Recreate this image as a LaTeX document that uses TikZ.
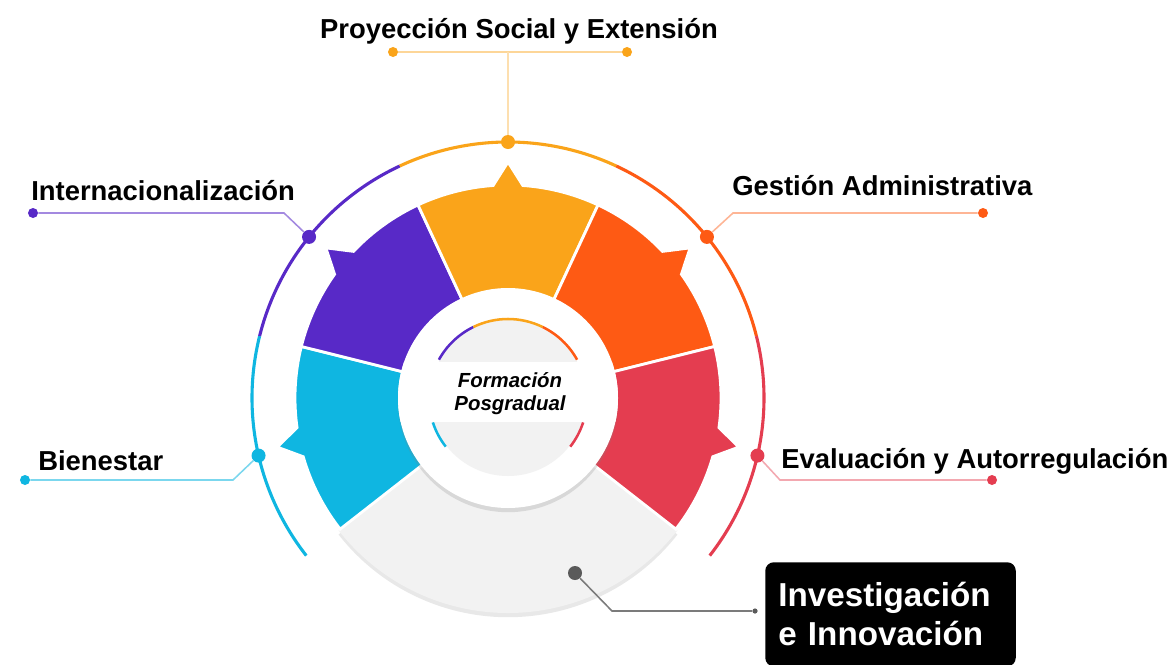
\documentclass[tikz,border=0pt]{standalone}
\usepackage{fontspec}
\setmainfont{Liberation Sans}
\usetikzlibrary{positioning,shadows}

\definecolor{cpurple}{RGB}{88,41,199}
\definecolor{corange}{RGB}{250,164,26}
\definecolor{credor}{RGB}{254,90,20}
\definecolor{cred}{RGB}{228,61,80}
\definecolor{ccyan}{RGB}{15,182,225}
\definecolor{cgray}{RGB}{242,242,242}
\definecolor{cdark}{RGB}{90,90,90}

\begin{document}
\begin{tikzpicture}[
    x=0.025cm, y=0.025cm,
    seg/.style={draw=white, line width=2pt},
    rim/.style={line width=2.2pt},
    lead/.style={line width=1.1pt},
    pin/.style={circle, inner sep=0pt, minimum size=0.35cm},
    tip/.style={circle, inner sep=0pt, minimum size=0.25cm},
    lbl/.style={inner sep=0pt, anchor=base west, font=\fontsize{19.5}{23}\selectfont\bfseries}
]

% Canvas
\useasboundingbox (0,0) rectangle (1176,-664);
\fill[white] (0,0) rectangle (1176,-664);

% Wheel
\begin{scope}[shift={(508,-398)}]
  % grey segment
  \fill[cgray, drop shadow={opacity=0.18, shadow xshift=0pt, shadow yshift=-3pt}]
    (218:108) -- (218:215) arc[start angle=218, end angle=322, radius=215]
    -- (322:108) arc[start angle=322, end angle=218, radius=108] -- cycle;

  % coloured segments
  \foreach \s/\e/\c in {166/218/ccyan, 115/166/cpurple, 65/115/corange, 14/65/credor, -38/14/cred} {
    \pgfmathsetmacro\ml{(\s+\e)/2-4}
    \pgfmathsetmacro\mm{(\s+\e)/2}
    \pgfmathsetmacro\mr{(\s+\e)/2+4}
    \fill[seg, fill=\c] (\s:100) -- (\s:213) arc[start angle=\s, end angle=\ml, radius=213]
      -- (\mm:236) -- (\mr:213) arc[start angle=\mr, end angle=\e, radius=213]
      -- (\e:100) arc[start angle=\e, end angle=\s, radius=100] -- cycle;
  }

  % outer rim
  \foreach \a/\b/\c in {218/166/ccyan, 166/115/cpurple, 115/65/corange, 65/14/credor, 14/-38/cred}
    \draw[rim, \c] (\a:256) arc[start angle=\a, end angle=\b, radius=256];

  % centre disc
  \fill[white, drop shadow={opacity=0.22, shadow xshift=0pt, shadow yshift=-3pt}] (0,0) circle[radius=110];
  \fill[cgray] (0,0) circle[radius=78];
  \foreach \a/\b/\c in {151/116/cpurple, 116/64/corange, 64/29/credor, 198/218/ccyan, 322/342/cred}
    \draw[line width=1.8pt, \c] (\a:79) arc[start angle=\a, end angle=\b, radius=79];
  \begin{scope}
    \clip (0,0) circle[radius=110];
    \fill[white] (-115,36) rectangle (115,-24);
  \end{scope}
  \node[align=center, font=\fontsize{14.5}{16.5}\selectfont\bfseries\itshape] (core) at (2,4) {Formación\\Posgradual};

  % pins on the rim
  \node[pin, fill=corange] (dot1) at (90:256) {};
  \node[pin, fill=cpurple] (dot2) at (141:256) {};
  \node[pin, fill=credor] (dot3) at (39:256) {};
  \node[pin, fill=ccyan] (dot4) at (193:256) {};
  \node[pin, fill=cred] (dot5) at (347:256) {};
\end{scope}

% Labels
\node[inner sep=0pt, anchor=base, font=\fontsize{19.5}{23}\selectfont\bfseries] (lbl1) at (519,-38) {Proyección Social y Extensión};
\node[lbl] (lbl2) at (31,-200) {Internacionalización};
\node[lbl] (lbl3) at (732,-195) {Gestión Administrativa};
\node[lbl] (lbl4) at (38,-470) {Bienestar};
\node[lbl] (lbl5) at (781,-468) {Evaluación y Autorregulación};
\node[anchor=north west, fill=black, rounded corners=6pt, text=white, align=left,
      minimum width=6.125cm, minimum height=2.6cm, text width=5.6cm, inner xsep=0.33cm,
      font=\fontsize{23.6}{27.5}\selectfont\bfseries] (lbl6) at (765,-562) {Investigación\\e Innovación};

% Leader ends
\node[tip, fill=corange] (end1a) at (393,-52) {};
\node[tip, fill=corange] (end1b) at (627,-52) {};
\coordinate (k1) at (508,-52);
\node[tip, fill=cpurple] (end2) at (33,-213) {};
\coordinate (k2) at (284,-213);
\node[tip, fill=credor] (end3) at (983,-213) {};
\coordinate (k3) at (733,-213);
\node[tip, fill=ccyan] (end4) at (25,-480) {};
\coordinate (k4) at (233,-480);
\node[tip, fill=cred] (end5) at (992,-480) {};
\coordinate (k5) at (780,-480);
\node[pin, fill=cdark] (dot6) at (575,-573) {};
\node[circle, inner sep=0pt, minimum size=0.13cm, fill=cdark] (end6) at (755,-611) {};
\coordinate (k6) at (612,-611);

% Leaders
\draw[lead, corange!45] (end1a) -- (end1b);
\draw[lead, corange!35] (dot1) -- (k1);
\draw[lead, cpurple!55] (dot2) -- (k2) -- (end2);
\draw[lead, credor!45] (dot3) -- (k3) -- (end3);
\draw[lead, ccyan!55] (dot4) -- (k4) -- (end4);
\draw[lead, cred!45] (dot5) -- (k5) -- (end5);
\draw[lead, cdark!80] (dot6) -- (k6) -- (end6);

\end{tikzpicture}
\end{document}
